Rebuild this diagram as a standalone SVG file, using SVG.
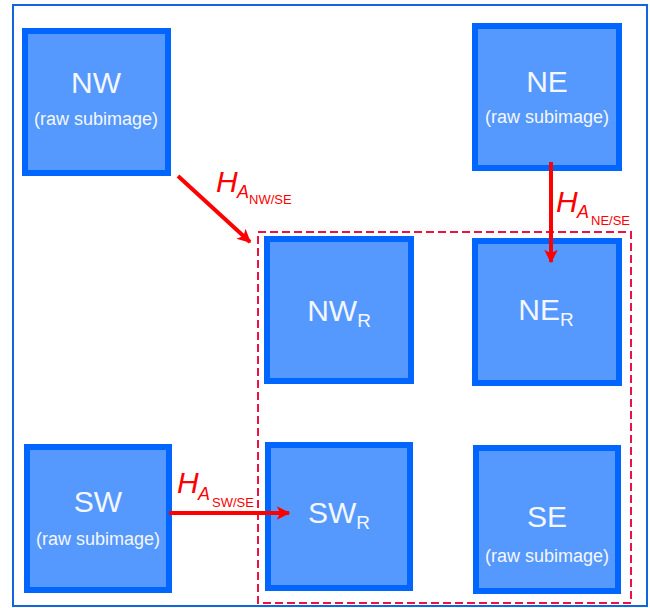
<svg xmlns="http://www.w3.org/2000/svg" width="650" height="608" viewBox="0 0 650 608">
<style>
.box{fill:#5599ff;stroke:#0066ff;stroke-width:6}
.t{font-family:"Liberation Sans",Arial,sans-serif;fill:#f4f7ff;text-anchor:middle}
.big{font-size:30px}
.sm{font-size:18px}
.sub{font-size:19px}
.lbl{font-family:"Liberation Sans",Arial,sans-serif;fill:#ff0000}
.arr{stroke:#ff0000;stroke-width:4;fill:none;marker-end:url(#ah)}
</style>
<defs>
<marker id="ah" viewBox="0 0 10 10" refX="9" refY="5" markerWidth="4.2" markerHeight="3.4" orient="auto" markerUnits="strokeWidth">
<path d="M0,0 L10,5 L0,10 L2.5,5 Z" fill="#ff0000"/>
</marker>
</defs>
<rect x="13" y="5" width="634" height="601" fill="#ffffff" stroke="#1166dd" stroke-width="2"/>
<rect id="region" x="258" y="232" width="373" height="371" fill="none" stroke="#ee1144" stroke-width="2" stroke-dasharray="8,4"/>
<g id="NW">
<rect class="box" x="25" y="31" width="143" height="142"/>
<text class="t big" x="96" y="93">NW</text>
<text class="t sm" x="96" y="125">(raw subimage)</text>
</g>
<g id="NE">
<rect class="box" x="475" y="26" width="144" height="142"/>
<text class="t big" x="547" y="92">NE</text>
<text class="t sm" x="547" y="123">(raw subimage)</text>
</g>
<g id="NWR">
<rect class="box" x="267" y="239" width="144" height="142"/>
<text class="t big" x="339" y="321">NW<tspan class="sub" dy="6">R</tspan></text>
</g>
<g id="NER">
<rect class="box" x="475" y="241" width="144" height="142"/>
<text class="t big" x="546" y="320">NE<tspan class="sub" dy="6">R</tspan></text>
</g>
<g id="SW">
<rect class="box" x="27" y="447" width="142" height="143"/>
<text class="t big" x="98" y="512">SW</text>
<text class="t sm" x="98" y="545">(raw subimage)</text>
</g>
<g id="SWR">
<rect class="box" x="268" y="445" width="142" height="143"/>
<text class="t big" x="339" y="523">SW<tspan class="sub" dy="6">R</tspan></text>
</g>
<g id="SE">
<rect class="box" x="476" y="448" width="142" height="143"/>
<text class="t big" x="547" y="527">SE</text>
<text class="t sm" x="547" y="562">(raw subimage)</text>
</g>
<g id="connectors">
<line class="arr" x1="178" y1="176" x2="250" y2="242"/>
<line class="arr" x1="551" y1="162" x2="551" y2="262"/>
<line class="arr" x1="169" y1="513" x2="289" y2="513"/>
</g>
<g id="labels">
<text class="lbl" font-style="italic" font-size="30" x="216" y="192">H</text>
<text class="lbl" font-style="italic" font-size="18" x="237" y="198">A</text>
<text class="lbl" font-size="13" x="249" y="204">NW/SE</text>
<text class="lbl" font-style="italic" font-size="30" x="556" y="212">H</text>
<text class="lbl" font-style="italic" font-size="18" x="577" y="218">A</text>
<text class="lbl" font-size="13" x="591" y="225">NE/SE</text>
<text class="lbl" font-style="italic" font-size="30" x="177" y="493">H</text>
<text class="lbl" font-style="italic" font-size="18" x="198" y="500">A</text>
<text class="lbl" font-size="13" x="212" y="507">SW/SE</text>
</g>
</svg>
